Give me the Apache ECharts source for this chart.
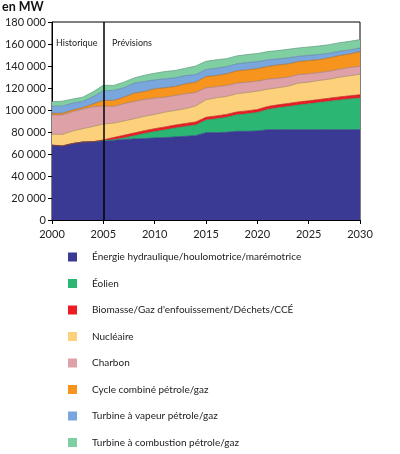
<!DOCTYPE html>
<html>
<head>
<meta charset="utf-8">
<script src="https://cdn.jsdelivr.net/npm/echarts@6/dist/echarts.min.js"></script>
<style>
  html, body { margin: 0; padding: 0; background: #fff; }
  #main { width: 400px; height: 454px; }
</style>
</head>
<body>
<div id="main"></div>
<script>
var years = ['2000','2001','2002','2003','2004','2005','2006','2007','2008','2009','2010',
  '2011','2012','2013','2014','2015','2016','2017','2018','2019','2020',
  '2021','2022','2023','2024','2025','2026','2027','2028','2029','2030'];

// capacité installée, en MW
var hydro = [68000,67300,69500,70900,71200,72000,72500,73100,73700,74000,74600,74900,75500,76100,76700,
  79400,79400,79700,80600,80600,80900,82100,82100,82100,82100,82100,82100,82100,82100,82100,82100];
var eolien = [0,0,0,0,0,200,500,1500,2900,4600,5800,7100,8100,9000,9700,
  11400,12600,13700,15000,16000,16900,18400,19900,21100,22500,23500,24700,25800,27000,28000,28900];
var biomasse = [0,0,0,0,0,600,2000,2400,2500,2600,2600,2600,2700,2700,2700,
  2600,2600,2600,2600,2600,2600,2700,2700,2700,2700,2700,2700,2800,2800,2800,2800];
var nucleaire = [10000,10500,11400,12100,13800,14400,13100,13000,13000,13000,13000,13500,13300,13400,14600,
  15900,16500,16300,16600,16700,16700,15700,15500,15800,17100,17000,17300,17300,17900,18200,18700];
var charbon = [17500,17700,17600,17800,18000,16300,15200,15700,15700,15400,14800,13600,13600,13600,12300,
  10900,10000,10000,9600,9400,9100,9100,8700,8100,7800,7600,7200,7200,7200,7500,7300];
var cycleCombine = [1500,1500,1500,1400,2500,5200,5400,6000,7500,7200,8500,8500,8200,9000,9300,
  10200,10200,10600,11200,11200,11500,11500,12100,12100,11800,12000,11800,12200,12500,12400,13200];
var turbineVapeur = [6500,6500,6300,5600,6500,8800,9100,8500,9100,9100,8100,8100,7900,7500,6900,
  6400,6700,6600,6300,6600,6300,6100,5500,5500,4800,4800,4600,4200,3900,3600,3300];
var turbineCombustion = [4000,4500,3600,3900,4500,5000,4500,5100,4800,5700,6000,6700,6600,6700,7800,
  7500,7600,7200,7300,7300,7300,7500,7500,7800,7600,7600,7800,7800,7800,7800,7700];

var names = [
  'Énergie hydraulique/houlomotrice/marémotrice',
  'Éolien',
  'Biomasse/Gaz d\'enfouissement/Déchets/CCÉ',
  'Nucléaire',
  'Charbon',
  'Cycle combiné pétrole/gaz',
  'Turbine à vapeur pétrole/gaz',
  'Turbine à combustion pétrole/gaz'
];
var values = [hydro, eolien, biomasse, nucleaire, charbon, cycleCombine, turbineVapeur, turbineCombustion];
var colors = ['#3a3a94','#2bb673','#ed1c24','#fdd17c','#dea1a8','#f7941d','#79a6dc','#80cfa3'];
var lineColors = ['#34348a','#23955e','#b8161c','#a58c5a','#9c7a7e','#a3692a','#5d7ea6','#5f9a7c'];

var font = 'Lato, "Noto Sans", sans-serif';

var series = names.map(function (n, i) {
  var s = {
    name: n,
    type: 'line',
    stack: 'total',
    data: values[i],
    symbol: 'none',
    smooth: false,
    itemStyle: { color: colors[i] },
    lineStyle: { width: 0.7, color: lineColors[i] },
    areaStyle: { color: colors[i], opacity: 1 }
  };
  if (i === 0) {
    s.markLine = {
      silent: true,
      symbol: 'none',
      label: { show: false },
      lineStyle: { color: '#000', width: 1.5, type: 'solid' },
      data: [{ xAxis: '2005' }],
      z: 10
    };
  }
  return s;
});

var myChart = echarts.init(document.getElementById('main'));
var option = {
  animation: false,
  grid: {
    left: 52, top: 22, right: 40, bottom: 234,
    show: true, borderColor: '#000', borderWidth: 1
  },
  xAxis: {
    type: 'category',
    data: years,
    boundaryGap: false,
    axisLine: { lineStyle: { color: '#000', width: 1 } },
    axisTick: { interval: 4, length: 4, lineStyle: { color: '#000' } },
    axisLabel: { interval: 4, fontFamily: font, fontSize: 11, color: '#222', margin: 9 },
    splitLine: { show: false }
  },
  yAxis: {
    type: 'value',
    min: 0, max: 180000, interval: 20000,
    axisLine: { show: true, lineStyle: { color: '#000', width: 1 } },
    axisTick: { show: true, length: 4, lineStyle: { color: '#000' } },
    axisLabel: {
      fontFamily: font, fontSize: 11, color: '#222', margin: 6,
      formatter: function (v) { return String(v).replace(/\B(?=(\d{3})+(?!\d))/g, ' '); }
    },
    splitLine: { show: false }
  },
  legend: {
    orient: 'vertical',
    left: 68, top: 252,
    padding: 0,
    icon: 'rect',
    itemWidth: 9, itemHeight: 9,
    itemGap: 16.5,
    data: names,
    textStyle: { fontFamily: font, fontSize: 10, color: '#222', lineHeight: 9, padding: [0, 0, 0, 10] }
  },
  graphic: [
    { type: 'text', left: 2, top: 0, style: { text: 'en MW', font: 'bold 12.5px ' + font, fill: '#111' } },
    { type: 'text', left: 56, top: 39, style: { text: 'Historique', font: '9px ' + font, fill: '#222' } },
    { type: 'text', left: 112, top: 39, style: { text: 'Prévisions', font: '9px ' + font, fill: '#222' } }
  ],
  series: series
};
myChart.setOption(option);

window.onresize = function () {
  myChart.resize();
};
</script>
</body>
</html>
